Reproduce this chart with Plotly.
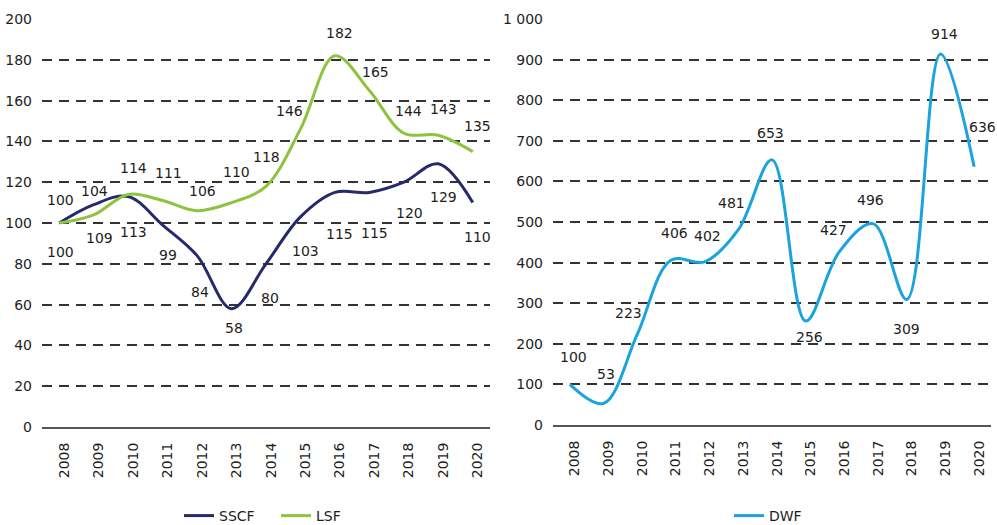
import plotly.graph_objects as go

years = ["2008", "2009", "2010", "2011", "2012", "2013", "2014",
         "2015", "2016", "2017", "2018", "2019", "2020"]
sscf = [100, 109, 113, 99, 84, 58, 80, 103, 115, 115, 120, 129, 110]
lsf = [100, 104, 114, 111, 106, 110, 118, 146, 182, 165, 144, 143, 135]
dwf = [100, 53, 223, 406, 402, 481, 653, 256, 427, 496, 309, 914, 636]

left_ticks = list(range(0, 201, 20))
right_ticks = list(range(0, 1001, 100))
right_ticktext = ["0", "100", "200", "300", "400", "500", "600", "700", "800", "900", "1 000"]

# value-label offsets in pixels (style only): (dx, dy), dy positive = up
lsf_label_off = [(1, 23), (1, 24), (5, 26), (6, 28), (5, 20), (5, 31), (0, 29),
                 (-11, 18), (5, 23), (6, 18), (5, 22), (5, 26), (5, 26)]
sscf_label_off = [(1, -29), (6, -33), (5, -36), (5, -30), (3, -36), (2, -19), (4, -34),
                  (5, -34), (5, -42), (5, -41), (6, -31), (5, -33), (5, -34)]
dwf_label_off = [(4, 27), (2, 29), (-9, 21), (4, 27), (3, 26), (-7, 27), (-2, 27),
                 (4, -16), (-6, 22), (-3, 24), (0, -29), (4, 20), (8, 40)]

C_SSCF = "#262a6b"
C_LSF = "#8cc43f"
C_DWF = "#1aa3dd"
FONT = "DejaVu Sans"
TXT = "#1e1e1e"
GRID = "#333333"

fig = go.Figure()
fig.add_trace(go.Scatter(x=years, y=sscf, name="SSCF", mode="lines",
                         line=dict(color=C_SSCF, width=3, shape="spline", smoothing=1),
                         xaxis="x", yaxis="y", legend="legend"))
fig.add_trace(go.Scatter(x=years, y=lsf, name="LSF", mode="lines",
                         line=dict(color=C_LSF, width=3, shape="spline", smoothing=1),
                         xaxis="x", yaxis="y", legend="legend"))
fig.add_trace(go.Scatter(x=years, y=dwf, name="DWF", mode="lines",
                         line=dict(color=C_DWF, width=3, shape="spline", smoothing=1),
                         xaxis="x2", yaxis="y2", legend="legend2"))

annotations = []
lab_font = dict(family=FONT, size=14, color=TXT)


def add_labels(values, offsets, xref, yref):
    for i, (v, (dx, dy)) in enumerate(zip(values, offsets)):
        annotations.append(dict(x=i, y=v, xref=xref, yref=yref, text=str(v),
                                showarrow=False, xshift=dx, yshift=dy, font=lab_font))


add_labels(lsf, lsf_label_off, "x", "y")
add_labels(sscf, sscf_label_off, "x", "y")
add_labels(dwf, dwf_label_off, "x2", "y2")

W, H = 997, 525
xaxis_common = dict(type="category", range=[-0.5, 12.5], tickangle=-90, showgrid=False,
                    showline=True, linecolor="#555555", linewidth=2, ticks="",
                    ticklabelstandoff=8, ticklabelshift=5, zeroline=False, automargin=False,
                    tickfont=dict(family=FONT, size=14, color=TXT))
yaxis_common = dict(showgrid=True, gridcolor=GRID, gridwidth=1.6, griddash="10px,7px",
                    zeroline=False, showline=False, ticks="", ticklabelstandoff=9,
                    automargin=False, tickfont=dict(family=FONT, size=14, color=TXT))

legend_common = dict(orientation="h", yref="container", xref="container",
                     y=9 / H, xanchor="left", yanchor="middle",
                     font=dict(family=FONT, size=14, color=TXT), bgcolor="rgba(0,0,0,0)",
                     entrywidth=52, entrywidthmode="pixels")

fig.update_layout(
    width=W, height=H,
    margin=dict(l=0, r=0, t=0, b=0, autoexpand=False),
    paper_bgcolor="white", plot_bgcolor="white",
    font=dict(family=FONT, size=14, color=TXT),
    xaxis=dict(xaxis_common, domain=[42 / W, 490 / W], anchor="y"),
    yaxis=dict(yaxis_common, domain=[(H - 427) / H, (H - 19) / H], range=[0, 200],
               tickvals=left_ticks, anchor="x"),
    xaxis2=dict(xaxis_common, domain=[553 / W, 991 / W], anchor="y2"),
    yaxis2=dict(yaxis_common, domain=[(H - 425) / H, (H - 19) / H], range=[0, 1000],
                tickvals=right_ticks, ticktext=right_ticktext, anchor="x2"),
    legend=dict(legend_common, x=179 / W),
    legend2=dict(legend_common, x=729 / W),
    annotations=annotations,
    showlegend=True,
)

fig.write_html("out.html", config={"displayModeBar": False},
               post_script="document.body.style.margin='0';"
                           "document.body.style.overflow='hidden';")
